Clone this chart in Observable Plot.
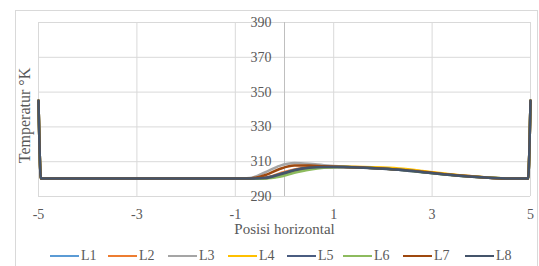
<!DOCTYPE html>
<html>
<head>
<meta charset="utf-8">
<script src="https://cdn.jsdelivr.net/npm/d3@7"></script>
<script src="https://cdn.jsdelivr.net/npm/@observablehq/plot@0.6"></script>
<style>
  html, body { margin: 0; padding: 0; background: #fff; }
  #wrap { position: relative; width: 539px; height: 266px; overflow: hidden; font-family: "Liberation Serif", serif; }
  #frame { position: absolute; left: 15px; top: 10px; width: 523px; height: 270px; border: 1px solid #d9d9d9; box-sizing: border-box; pointer-events: none; }
  #chart { position: absolute; left: 0; top: 0; }
  #legend { position: absolute; left: 0; top: 246px; width: 539px; height: 20px; }
  .item { position: absolute; top: 0; display: flex; align-items: center; font-size: 14px; color: #595959; height: 20px; }
  .sw { width: 29px; height: 2.5px; margin-right: 2px; }
</style>
</head>
<body>
<div id="wrap">
  <div id="chart"></div>
  <div id="frame"></div>
  <div id="legend"></div>
</div>
<script>
// Series names and colours
const seriesNames = ["L1", "L2", "L3", "L4", "L5", "L6", "L7", "L8"];
const seriesColors = ["#5B9BD5", "#ED7D31", "#A5A5A5", "#FFC000", "#4A5C80", "#8DBB5E", "#9E480E", "#44546A"];

// Shared x positions (Posisi horizontal)
const xs = [-5, -4.95, -1, -0.7, -0.4, -0.1, 0.2, 0.5, 0.8, 1.2, 1.6, 2.0, 2.4, 2.8, 3.2, 3.6, 4.0, 4.5, 4.95, 5];

// Temperatures (K) per series
const L1 = [345, 300.3, 300.3, 300.3, 300.6, 302.5, 304.8, 306.3, 306.9, 306.9, 306.6, 306.1, 305.3, 304.3, 303.0, 302.0, 301.2, 300.4, 300.3, 345];
const L2 = [345, 300.3, 300.3, 300.3, 300.8, 303.2, 305.6, 306.8, 307.2, 307.1, 306.8, 306.3, 305.5, 304.4, 303.1, 302.0, 301.2, 300.4, 300.3, 345];
const L3 = [345, 300.3, 300.3, 300.6, 303.8, 307.6, 309.2, 308.8, 308.0, 307.2, 306.7, 306.1, 305.3, 304.2, 302.9, 301.8, 301.0, 300.4, 300.3, 345];
const L4 = [345, 300.3, 300.3, 300.3, 300.5, 301.8, 304.0, 305.8, 306.8, 307.1, 307.0, 306.6, 305.9, 304.7, 303.3, 302.1, 301.2, 300.4, 300.3, 345];
const L5 = [345, 300.3, 300.3, 300.3, 300.7, 302.8, 305.2, 306.6, 307.1, 307.0, 306.6, 306.0, 305.2, 304.1, 302.9, 301.9, 301.1, 300.4, 300.3, 345];
const L6 = [345, 300.3, 300.3, 300.3, 300.4, 301.4, 303.6, 305.4, 306.5, 306.9, 306.7, 306.1, 305.2, 304.0, 302.8, 301.8, 301.0, 300.4, 300.3, 345];
const L7 = [345, 300.3, 300.3, 300.4, 302.2, 305.8, 307.8, 307.8, 307.4, 307.0, 306.6, 306.1, 305.3, 304.2, 303.0, 301.9, 301.1, 300.4, 300.3, 345];
const L8 = [345, 300.3, 300.3, 300.3, 300.6, 302.6, 305.0, 306.5, 307.0, 306.9, 306.5, 305.9, 305.1, 304.0, 302.8, 301.8, 301.0, 300.4, 300.3, 345];

const seriesValues = [L1, L2, L3, L4, L5, L6, L7, L8];

// Axis ticks
const xTicks = [-5, -3, -1, 1, 3, 5];
const yTicks = [290, 310, 330, 350, 370, 390];

const data = [];
seriesNames.forEach((name, i) => {
  xs.forEach((x, j) => data.push({series: name, x, y: seriesValues[i][j]}));
});

const textColor = "#595959";
const grid = "#d9d9d9";

const chart = Plot.plot({
  width: 539,
  height: 244,
  marginLeft: 38,
  marginRight: 9,
  marginTop: 22,
  marginBottom: 48,
  style: {fontFamily: "Liberation Serif, serif", fontSize: "14px", color: textColor, background: "transparent"},
  x: {domain: [-5, 5], axis: null},
  y: {domain: [290, 390], axis: null},
  color: {domain: seriesNames, range: seriesColors},
  marks: [
    Plot.ruleY(yTicks, {stroke: grid, strokeWidth: 1}),
    Plot.ruleX(xTicks, {stroke: grid, strokeWidth: 1}),
    Plot.ruleX([0], {stroke: "#bfbfbf", strokeWidth: 1}),
    Plot.line(data, {x: "x", y: "y", z: "series", stroke: "series", strokeWidth: 2.5, curve: "monotone-x"}),
    Plot.text(yTicks, {x: 0, y: d => d, text: d => String(d), textAnchor: "end", dx: -13, fill: textColor, fontSize: 14}),
    Plot.text(xTicks, {x: d => d, y: 290, text: d => String(d), dy: 18, fill: textColor, fontSize: 14}),
    Plot.text(["Posisi horizontal"], {frameAnchor: "bottom", textAnchor: "middle", text: d => d, dy: 37, fill: textColor, fontSize: 15}),
    Plot.text(["Temperatur °K"], {frameAnchor: "left", textAnchor: "middle", text: d => d, rotate: -90, dx: -14, dy: 6, fill: textColor, fontSize: 16})
  ]
});
document.getElementById("chart").appendChild(chart);

const legend = document.getElementById("legend");
const legendLeft = [50, 108, 168, 228, 287, 343, 403, 465];
seriesNames.forEach((name, i) => {
  const it = document.createElement("div");
  it.className = "item";
  it.style.left = legendLeft[i] + "px";
  it.innerHTML = `<span class="sw" style="background:${seriesColors[i]}"></span><span>${name}</span>`;
  legend.appendChild(it);
});
</script>
</body>
</html>
